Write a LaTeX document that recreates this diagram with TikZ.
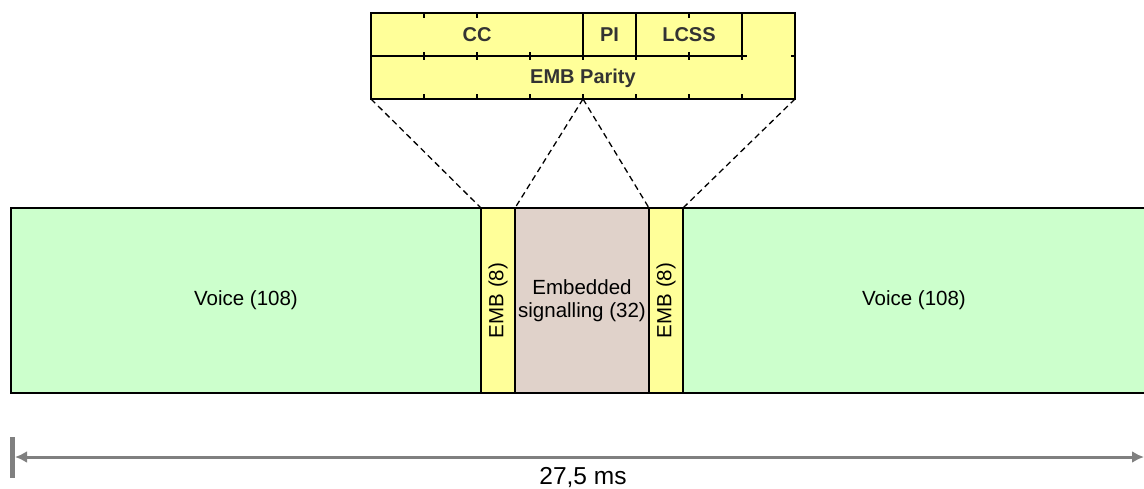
\documentclass[tikz,border=0pt]{standalone}
\usepackage{fontspec}
\setmainfont{Liberation Sans}
\usetikzlibrary{arrows.meta,positioning,calc}
\definecolor{cvoice}{RGB}{204,255,204}
\definecolor{cemb}{RGB}{255,255,153}
\definecolor{csig}{RGB}{224,210,202}
\definecolor{clabel}{RGB}{51,51,51}
\definecolor{cdim}{RGB}{128,128,128}

\begin{document}
\begin{tikzpicture}[x=1pt, y=-1pt,
  font=\fontsize{20.5}{23}\selectfont,
  cell/.style={draw, line width=1.6pt, inner sep=0pt, outer sep=0pt, anchor=north west, align=center},
  voice/.style={cell, fill=cvoice, minimum height=185pt},
  emb/.style={cell, fill=cemb, minimum width=34pt, minimum height=185pt},
  sig/.style={cell, fill=csig, minimum width=134pt, minimum height=185pt},
  field/.style={cell, fill=cemb, minimum height=43pt, font=\fontsize{20}{23}\selectfont\bfseries, text=clabel},
  tick/.style={line width=1.2pt},
  zoomline/.style={line width=1.3pt, dash pattern=on 6pt off 4pt},
  dim/.style={{Latex[length=12pt,width=12pt]}-{Latex[length=12pt,width=12pt]}, cdim, line width=3pt},
]
\useasboundingbox (0,0) rectangle (1144,488);

% --- burst: voice | EMB | embedded signalling | EMB | voice ---
\node[voice, minimum width=470pt] (voiceL) at (11,208) {Voice (108)};
\node[emb] (emb1) at (481,208) {\rotatebox{90}{EMB (8)}};
\node[sig] (sig) at (515,208) {Embedded\\signalling (32)};
\node[emb] (emb2) at (649,208) {\rotatebox{90}{EMB (8)}};
\node[voice, minimum width=462pt] (voiceR) at (683,208) {Voice (108)};

% --- EMB field layout (top) ---
\node[cell, fill=cemb, minimum width=424pt, minimum height=86pt] (embbox) at (371,13) {};
\node[field, minimum width=212pt] (cc) at (371,13) {CC};
\node[field, minimum width=53pt] (pi) at (583,13) {PI};
\node[field, minimum width=106pt] (lcss) at (636,13) {LCSS};
\draw[line width=1.6pt] (lcss.south east) -- ++(5,0);
\node[font=\fontsize{20}{23}\selectfont\bfseries, text=clabel] (parity) at (583,78) {EMB Parity};

% bit ticks
\foreach \k in {1,2,6} {
  \draw[tick] ($(embbox.north west)+(53*\k,0)$) -- ++(0,5);
}
\foreach \k in {1,...,7} {
  \draw[tick] ($(cc.south west)+(53*\k,-4)$) -- ++(0,8);
  \draw[tick] ($(embbox.south west)+(53*\k,0)$) -- ++(0,-5);
}
\draw[tick] ($(embbox.north east)+(0,43)$) -- ++(-4,0);

% --- zoom lines ---
\draw[zoomline] (embbox.south west) -- (emb1.north west);
\draw[zoomline] (embbox.south) -- (emb1.north east);
\draw[zoomline] (embbox.south) -- (emb2.north west);
\draw[zoomline] (embbox.south east) -- (emb2.north east);

% --- duration ---
\coordinate (dimL) at (15,457);
\coordinate (dimR) at (1144,457);
\draw[dim] (dimL) -- (dimR);
\draw[cdim, line width=5pt] ($(dimL)+(-2.5,-20)$) -- ($(dimL)+(-2.5,21)$);
\node[anchor=base, font=\fontsize{24.5}{28}\selectfont] (dimlabel) at (583,484) {27,5 ms};
\end{tikzpicture}
\end{document}
